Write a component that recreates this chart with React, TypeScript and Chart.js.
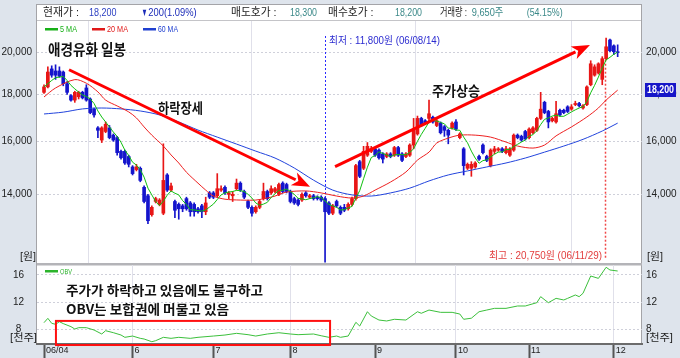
import React, { useEffect, useRef } from 'react';
import { Chart, registerables } from 'chart.js';

Chart.register(...registerables);

// ---------------- DATA ----------------
const opens = [
  18100, 18350, 19200, 19100, 19100, 19050, 18500, 17950, 17750, 17900,
  18100, 18300, 17800, 17350, 16550, 16050, 16400, 16550, 16250, 16150,
  15600, 15600, 15400, 15000, 14900, 14950, 14250, 13950, 13300, 13750,
  13650, 13350, 14700, 14150, 13750, 13650, 13600, 13850, 13700, 13650,
  13500, 13600, 13400, 14050, 14050, 13950, 14150, 14250, 14000, 13950,
  14200, 14400, 14100, 13750, 13550, 13400, 13550, 13850, 14100, 14050,
  14100, 14000, 14400, 14350, 14100, 13850, 13800, 13800, 14050, 13900,
  13950, 13900, 13900, 13850, 13700, 13350, 13750, 13550, 13550, 13500,
  13650, 13850, 15200, 14950, 15450, 15600, 15700, 15650, 15500, 15400,
  15500, 15450, 15750, 15500, 15400, 15450, 15850, 16300, 16950, 16850,
  16950, 17000, 16650, 16750, 16600, 16450, 16550, 16800, 16150, 15700,
  14950, 14950, 15000, 15400, 15850, 15400, 15050, 15600, 15650, 15700,
  15550, 15450, 15650, 16250, 16200, 16400, 16150, 16350, 16450, 16950,
  17650, 17250, 16850, 16800, 17300, 17300, 17450, 17350, 17550, 17600,
  17400, 17550, 18450, 18900, 19000, 18700, 19700, 20650, 20350, 20050,
];
const highs = [
  18450, 19300, 19350, 19400, 19300, 19100, 18600, 18000, 18150, 18150,
  18150, 18450, 17850, 17400, 16600, 16600, 16800, 16650, 16300, 16200,
  15650, 15650, 15450, 15050, 15100, 15000, 14300, 14000, 13600, 13900,
  13850, 15900, 14750, 14400, 13800, 13700, 13650, 13900, 13750, 13700,
  13550, 13650, 13900, 14100, 14100, 14750, 14300, 14300, 14100, 14100,
  14550, 14450, 14150, 13800, 13600, 13600, 13800, 14400, 14150, 14300,
  14250, 14400, 14450, 14400, 14150, 13900, 13850, 14050, 14100, 14000,
  14000, 13950, 13950, 13900, 13750, 13650, 13800, 13600, 13650, 13700,
  13900, 15100, 15250, 15800, 15950, 15800, 15750, 15700, 15550, 15550,
  15550, 15800, 15800, 15550, 15550, 15900, 16950, 17050, 17000, 16900,
  17750, 17050, 16900, 16800, 16650, 16500, 16800, 16900, 16350, 15750,
  15150, 15200, 15200, 15450, 15900, 15450, 15700, 15800, 15750, 15750,
  15800, 15750, 16300, 16300, 16250, 16450, 16550, 16600, 17000, 18100,
  17700, 17300, 17000, 17700, 17350, 17350, 17500, 17550, 17700, 17650,
  17550, 18400, 19600, 19400, 19500, 19800, 20750, 20700, 20400, 20400,
];
const lows = [
  18050, 18300, 18800, 18700, 18800, 18400, 18000, 17700, 17650, 17800,
  17800, 17700, 17150, 17000, 16150, 15950, 16350, 16100, 16000, 15450,
  15300, 15100, 15000, 14700, 14850, 14450, 13700, 13000, 13250, 13700,
  13600, 13300, 14100, 14100, 13200, 13150, 13400, 13450, 13250, 13250,
  13350, 13200, 13300, 13850, 13850, 13900, 14100, 14000, 13850, 13750,
  14150, 14100, 13850, 13500, 13250, 13350, 13500, 13800, 13800, 14000,
  14050, 13950, 14050, 14050, 13700, 13650, 13600, 13750, 13900, 13850,
  13800, 13800, 13750, 11800, 13300, 13300, 13550, 13300, 13400, 13450,
  13600, 13800, 14600, 14900, 15400, 15550, 15400, 15300, 15150, 15350,
  15350, 15400, 15400, 15200, 15350, 15400, 15700, 16250, 16600, 16700,
  16850, 16750, 16600, 16300, 16200, 15900, 16500, 16450, 16100, 14700,
  14900, 14650, 14950, 15250, 15500, 15200, 15000, 15500, 15600, 15550,
  15500, 15400, 15600, 16100, 16000, 16050, 16100, 16300, 16400, 16900,
  17150, 16550, 16800, 16750, 17050, 17150, 17200, 17300, 17500, 17450,
  17350, 17500, 18400, 18850, 18950, 18450, 19650, 20050, 19900, 19800,
];
const closes = [
  18350, 19050, 18900, 18900, 18850, 18500, 18100, 17750, 18100, 18100,
  17850, 17750, 17200, 17100, 16450, 16550, 16700, 16150, 16050, 15550,
  15350, 15150, 15100, 14750, 15000, 14500, 13750, 13100, 13550, 13850,
  13800, 14500, 14150, 14300, 13450, 13500, 13500, 13500, 13400, 13400,
  13400, 13400, 13700, 13900, 13900, 14200, 14200, 14050, 14050, 14000,
  14400, 14150, 13900, 13550, 13350, 13550, 13750, 14100, 13850, 14200,
  14200, 14350, 14100, 14100, 13750, 13700, 13650, 14000, 13950, 13950,
  13850, 13850, 13800, 13400, 13350, 13600, 13600, 13350, 13450, 13650,
  13850, 15050, 14650, 15600, 15800, 15700, 15450, 15350, 15300, 15500,
  15400, 15750, 15450, 15250, 15500, 15850, 16450, 16950, 16650, 16750,
  17150, 16800, 16850, 16350, 16450, 16250, 16750, 16500, 16300, 15050,
  15100, 15100, 15150, 15300, 15550, 15250, 15650, 15700, 15700, 15600,
  15700, 15700, 16250, 16150, 16050, 16100, 16500, 16550, 16950, 17350,
  17200, 16800, 16950, 17150, 17100, 17200, 17250, 17450, 17600, 17500,
  17500, 18350, 19450, 19300, 19450, 19700, 20300, 20100, 20050, 20000,
];
const ma5 = [
  18350, 18500, 18650, 18780, 18810, 18840, 18650, 18420, 18260, 18110,
  17980, 17910, 17800, 17600, 17270, 17010, 16800, 16590, 16380, 16200,
  15960, 15650, 15440, 15180, 15070, 14900, 14620, 14220, 13980, 13750,
  13610, 13760, 13970, 14120, 14040, 13980, 13780, 13650, 13470, 13460,
  13440, 13420, 13460, 13560, 13660, 13820, 13980, 14050, 14080, 14100,
  14140, 14130, 14100, 14000, 13870, 13700, 13620, 13660, 13720, 13890,
  14020, 14140, 14140, 14190, 14100, 14000, 13860, 13840, 13810, 13850,
  13880, 13920, 13880, 13770, 13650, 13600, 13550, 13460, 13470, 13530,
  13580, 13870, 14130, 14560, 14990, 15360, 15440, 15580, 15520, 15460,
  15400, 15460, 15480, 15470, 15470, 15560, 15700, 16000, 16280, 16530,
  16790, 16860, 16840, 16780, 16720, 16540, 16530, 16460, 16450, 16170,
  15940, 15610, 15340, 15140, 15240, 15270, 15380, 15490, 15570, 15580,
  15670, 15680, 15790, 15880, 15970, 16050, 16210, 16270, 16430, 16690,
  16910, 16970, 17050, 17090, 17040, 17040, 17130, 17230, 17320, 17400,
  17460, 17680, 18080, 18420, 18810, 19250, 19640, 19770, 19920, 20030,
];
const ma20Points = [
  [0, 17890], [3, 18300], [8, 18690], [11, 18520], [14, 18120], [16, 17750], [19, 17490],
  [22, 17230], [24, 16970], [26, 16590], [28, 16250], [31, 15810], [33, 15460], [35, 15150],
  [37, 14800], [40, 14400], [42, 14150], [44, 13940], [47, 13830], [51, 13800], [55, 13800],
  [58, 13870], [60, 13940], [63, 14080], [68, 14120], [72, 14050], [76, 13940], [80, 13870],
  [83, 13940], [86, 14150], [90, 14440], [94, 14810], [97, 15260], [100, 15570], [102, 15930],
  [105, 16130], [108, 16250], [112, 16250], [116, 16170], [120, 15970], [123, 15810],
  [127, 15730], [130, 15850], [133, 16220], [137, 16590], [141, 17010], [144, 17400],
  [146, 17750], [149, 18200],
];
const ma60Points = [
  [0, 17140], [5, 17220], [10, 17360], [15, 17400], [20, 17360], [25, 17270], [30, 17100],
  [35, 16800], [40, 16460], [45, 16170], [50, 15890], [55, 15610], [60, 15340], [65, 14960],
  [70, 14510], [75, 14150], [80, 13980], [85, 13940], [90, 14050], [95, 14220], [100, 14480],
  [105, 14700], [110, 14850], [115, 15000], [120, 15150], [125, 15340], [130, 15570],
  [135, 15810], [140, 16080], [145, 16420], [149, 16750],
];
const obvPoints = [
  [0, 8.94], [1, 9.58], [2, 8.84], [3, 8.7], [4, 9.08], [5, 8.8], [7, 8.35], [8, 8.0], [9, 8.2],
  [11, 8.2], [13, 7.85], [15, 7.26], [16, 7.75], [18, 7.46], [20, 7.11], [21, 6.77], [23, 6.96],
  [25, 6.62], [26, 6.52], [28, 6.12], [29, 6.27], [31, 6.77], [33, 6.62], [35, 6.77], [38, 6.62],
  [40, 6.77], [44, 6.96], [47, 7.11], [50, 7.36], [53, 7.16], [55, 6.96], [58, 7.26], [61, 7.45],
  [64, 7.26], [66, 7.16], [70, 7.26], [72, 7.0], [74, 6.77], [76, 6.96], [77, 6.77], [79, 6.96],
  [81, 8.99], [82, 8.44], [84, 10.56], [85, 9.93], [87, 9.33], [89, 9.19], [91, 9.44], [94, 9.33],
  [97, 10.56], [98, 10.33], [100, 10.81], [103, 10.47], [106, 10.47], [108, 10.22], [109, 9.44],
  [111, 9.6], [113, 10.56], [115, 10.81], [117, 11.06], [120, 11.06], [123, 11.41], [125, 11.41],
  [128, 11.9], [129, 12.79], [131, 11.9], [133, 12.54], [135, 12.3], [136, 12.54], [138, 13.04],
  [139, 12.79], [140, 13.29], [142, 15.85], [144, 15.5], [146, 17.14], [147, 16.74], [149, 16.59],
];
const monthTickIndex = [0, 23, 44, 64, 86, 107, 126, 148];
const monthTickLabels = ['06/04', '6', '7', '8', '9', '10', '11', '12'];
const monthGridIndex = [23, 64, 107, 148];
const priceTicks = [14000, 16000, 18000, 20000];
const obvTicks = [8, 12, 16];
const priceMin = 11777;
const priceMax = 21662;
const obvMin = 5.78;
const obvMax = 17.48;
const xMin = -1.82;
const xMax = 155.32;
const lowIndex = 73;
const highIndex = 146;
const lowLabel = '최저 : 11,800원 (06/08/14)';
const highLabel = '최고 : 20,750원 (06/11/29)';
const currentPrice = 18200;
const downArrow = [[6.5, 19160], [69.1, 14270]];
const upArrow = [[75.6, 15010], [141.8, 20390]];
const obvBox = [[3.1, 9.2], [74.3, 5.63]];

// ---------------- STYLE ----------------
const FONT_NUM = "'Liberation Sans', Arial, 'Noto Sans CJK KR', sans-serif";
const FONT_KR = "'Noto Sans CJK KR', 'Liberation Sans', sans-serif";
const UP = '#e81616';
const DOWN = '#1414cc';
const GRID_H = '#cfd0da';
const GRID_V = '#e0e0ea';

const fmt = (v: number) => Number(v).toLocaleString('en-US');

function fitText(ctx: CanvasRenderingContext2D, text: string, x: number, y: number, width: number, font: string, color: string) {
  ctx.save();
  ctx.font = font;
  ctx.fillStyle = color;
  ctx.textBaseline = 'middle';
  ctx.textAlign = 'left';
  const w = ctx.measureText(text).width || 1;
  ctx.translate(x, y);
  ctx.scale(width / w, 1);
  ctx.fillText(text, 0, 0);
  ctx.restore();
}

function drawArrow(ctx: CanvasRenderingContext2D, x1: number, y1: number, x2: number, y2: number) {
  const a = Math.atan2(y2 - y1, x2 - x1);
  const hl = 18, hw = 7;
  const bx = x2 - hl * Math.cos(a), by = y2 - hl * Math.sin(a);
  ctx.save();
  ctx.strokeStyle = '#ff0000';
  ctx.fillStyle = '#ff0000';
  ctx.lineWidth = 3;
  ctx.beginPath();
  ctx.moveTo(x1, y1);
  ctx.lineTo(bx + 2 * Math.cos(a), by + 2 * Math.sin(a));
  ctx.stroke();
  ctx.beginPath();
  ctx.moveTo(x2, y2);
  ctx.lineTo(bx + hw * Math.sin(a), by - hw * Math.cos(a));
  ctx.lineTo(bx + 5 * Math.cos(a), by + 5 * Math.sin(a));
  ctx.lineTo(bx - hw * Math.sin(a), by + hw * Math.cos(a));
  ctx.closePath();
  ctx.fill();
  ctx.restore();
}

const xBase = (labels: boolean): any => ({
  type: 'linear',
  min: xMin,
  max: xMax,
  bounds: 'data',
  offset: false,
  afterBuildTicks: (s: any) => { s.ticks = monthTickIndex.map((v) => ({ value: v })); },
  ticks: labels
    ? {
        display: true, autoSkip: false, maxRotation: 0, minRotation: 0, align: 'start',
        labelOffset: 2, padding: -13, color: '#222',
        font: { family: FONT_NUM, size: 9 },
        callback: (v: number) => { const k = monthTickIndex.indexOf(v); return k >= 0 ? monthTickLabels[k] : ''; },
      }
    : { display: false },
  grid: {
    drawTicks: labels,
    tickLength: 14,
    tickColor: '#555',
    tickWidth: 2,
    lineWidth: 1,
    color: (c: any) => (c.tick && monthGridIndex.includes(c.tick.value) ? GRID_V : 'rgba(0,0,0,0)'),
  },
  border: labels ? { display: true, color: '#6c6c6c', width: 2 } : { display: false },
  afterFit: (s: any) => { s.height = labels ? 14 : 0; s.paddingLeft = 0; s.paddingRight = 0; },
});

const yAxis = (type: string, pos: string, min: number, max: number, ticks: number[], extra: any): any => ({
  type,
  position: pos,
  min,
  max,
  bounds: 'data',
  afterBuildTicks: (s: any) => { s.ticks = ticks.map((v) => ({ value: v })); },
  ticks: {
    autoSkip: false,
    color: '#222',
    font: { family: FONT_NUM, size: 10 },
    padding: pos === 'left' ? 5 : 4,
    callback: (v: number) => fmt(v),
    ...(extra.ticks || {}),
  },
  grid: pos === 'left' ? { drawTicks: false, color: GRID_H } : { display: false, drawTicks: false },
  border: { display: false, dash: [2, 2] },
  afterFit: (s: any) => { s.width = pos === 'left' ? 37 : 38; s.paddingTop = 0; s.paddingBottom = 0; },
});

export default function App() {
  const refA = useRef<HTMLCanvasElement>(null);
  const refB = useRef<HTMLCanvasElement>(null);

  useEffect(() => {
    const candleColors = opens.map((o, i) => (closes[i] >= o ? UP : DOWN));

    const pluginA = {
      id: 'panelA',
      beforeDraw(chart: any) {
        const ctx = chart.ctx;
        ctx.save();
        ctx.fillStyle = '#ffffff';
        ctx.fillRect(37, 4, 605, 260);
        ctx.strokeStyle = '#a4a4a8';
        ctx.lineWidth = 1;
        ctx.beginPath();
        ctx.moveTo(36.5, 4.5); ctx.lineTo(641.5, 4.5);
        ctx.moveTo(36.5, 4); ctx.lineTo(36.5, 264);
        ctx.moveTo(641.5, 4); ctx.lineTo(641.5, 264);
        ctx.stroke();
        ctx.strokeStyle = '#c4c4c8';
        ctx.beginPath();
        ctx.moveTo(37, 20.5); ctx.lineTo(641, 20.5);
        ctx.stroke();
        ctx.restore();
      },
      beforeDatasetsDraw(chart: any) {
        const ctx = chart.ctx;
        const xs = chart.scales.x, ys = chart.scales.y;
        ctx.save();
        ctx.setLineDash([2, 2]);
        ctx.lineWidth = 1;
        ctx.strokeStyle = '#2a2aff';
        const xl = Math.round(xs.getPixelForValue(lowIndex)) + 0.5;
        ctx.beginPath();
        ctx.moveTo(xl, 36);
        ctx.lineTo(xl, ys.getPixelForValue(highs[lowIndex]));
        ctx.stroke();
        ctx.strokeStyle = '#f04848';
        ctx.lineWidth = 1.5;
        const xh = Math.round(xs.getPixelForValue(highIndex)) - 0.5;
        ctx.beginPath();
        ctx.moveTo(xh, ys.getPixelForValue(lows[highIndex]));
        ctx.lineTo(xh, chart.chartArea.bottom - 4);
        ctx.stroke();
        ctx.restore();
      },
      afterDatasetsDraw(chart: any) {
        const ctx = chart.ctx;
        const xs = chart.scales.x, ys = chart.scales.y;
        const P = (p: number[]) => [xs.getPixelForValue(p[0]), ys.getPixelForValue(p[1])];
        const [a1, a2] = [P(downArrow[0]), P(downArrow[1])];
        drawArrow(ctx, a1[0], a1[1], a2[0], a2[1]);
        const [b1, b2] = [P(upArrow[0]), P(upArrow[1])];
        drawArrow(ctx, b1[0], b1[1], b2[0], b2[1]);
      },
      afterDraw(chart: any) {
        const ctx = chart.ctx;
        const ys = chart.scales.y;
        const hf = `11px ${FONT_NUM}`;
        const header: [string, number, number, string][] = [
          ['현재가 :', 43, 36, '#222'],
          ['18,200', 89, 27.5, '#2a3ec2'],
          ['▼', 141.5, 6, '#1b2bb8'],
          ['200(1.09%)', 148.3, 48.4, '#1b2bb8'],
          ['매도호가 :', 231, 45.5, '#222'],
          ['18,300', 290, 27, '#3a8888'],
          ['매수호가 :', 328, 45.5, '#222'],
          ['18,200', 395, 27, '#3a8888'],
          ['거래량 :', 440, 27, '#222'],
          ['9,650주', 471.7, 31.6, '#3a8888'],
          ['(54.15%)', 526.7, 36, '#3a8888'],
        ];
        header.forEach(([t, x, w, c]) => fitText(ctx, t, x, 12.5, w, hf, c));
        const lg: [string, string, number, number][] = [
          ['5 MA', '#18b018', 45, 17],
          ['20 MA', '#e01818', 92, 21],
          ['60 MA', '#2040d0', 143, 20],
        ];
        lg.forEach(([t, c, x, w]) => {
          ctx.fillStyle = c;
          ctx.fillRect(x, 28, 13, 2.5);
          fitText(ctx, t, x + 15, 29.5, w, `9px ${FONT_NUM}`, c);
        });
        fitText(ctx, '애경유화 일봉', 48, 49.5, 78, `bold 15px ${FONT_KR}`, '#111');
        fitText(ctx, '하락장세', 158, 108, 45, `bold 14px ${FONT_KR}`, '#111');
        fitText(ctx, '주가상승', 432, 91, 48, `bold 14px ${FONT_KR}`, '#111');
        fitText(ctx, lowLabel, 329, 41, 111, `10px ${FONT_NUM}`, '#2b2bd0');
        fitText(ctx, highLabel, 489, 256, 113, `10px ${FONT_NUM}`, '#e23c3c');
        fitText(ctx, '[원]', 20, 257, 16, `10px ${FONT_NUM}`, '#222');
        fitText(ctx, '[원]', 647, 257, 16, `10px ${FONT_NUM}`, '#222');
        ctx.fillStyle = '#b4b4b8';
        ctx.fillRect(37, 263, 605, 1);
        const yc = ys.getPixelForValue(currentPrice);
        ctx.fillStyle = '#1616c8';
        ctx.fillRect(645, Math.round(yc) - 7, 31, 14);
        fitText(ctx, fmt(currentPrice), 647, Math.round(yc), 27, `bold 10px ${FONT_NUM}`, '#ffffff');
      },
    };

    const pluginB = {
      id: 'panelB',
      beforeDraw(chart: any) {
        const ctx = chart.ctx;
        ctx.save();
        ctx.fillStyle = '#ffffff';
        ctx.fillRect(37, 0, 605, 80);
        ctx.strokeStyle = '#a4a4a8';
        ctx.lineWidth = 1;
        ctx.beginPath();
        ctx.moveTo(36.5, 0); ctx.lineTo(36.5, 81);
        ctx.moveTo(641.5, 0); ctx.lineTo(641.5, 81);
        ctx.stroke();
        ctx.fillStyle = '#b4b4b8';
        ctx.fillRect(37, 0, 605, 1.5);
        ctx.restore();
      },
      afterDraw(chart: any) {
        const ctx = chart.ctx;
        const xs = chart.scales.x, ys = chart.scales.y;
        ctx.fillStyle = '#2cb42c';
        ctx.fillRect(45, 6, 13, 2.5);
        fitText(ctx, 'OBV', 60, 7.5, 12, `8px ${FONT_NUM}`, '#2cb42c');
        fitText(ctx, '주가가 하락하고 있음에도 불구하고', 66, 26, 197, `bold 13px ${FONT_KR}`, '#111');
        fitText(ctx, 'OBV는 보합권에 머물고 있음', 66, 45, 163, `bold 13px ${FONT_KR}`, '#111');
        fitText(ctx, '[천주]', 10, 74, 27, `10px ${FONT_NUM}`, '#222');
        fitText(ctx, '[천주]', 646, 74, 27, `10px ${FONT_NUM}`, '#222');
        const x0 = xs.getPixelForValue(obvBox[0][0]);
        const y0 = ys.getPixelForValue(obvBox[0][1]);
        const x1 = xs.getPixelForValue(obvBox[1][0]);
        const y1 = ys.getPixelForValue(obvBox[1][1]);
        ctx.save();
        ctx.strokeStyle = '#ff1010';
        ctx.lineWidth = 2;
        ctx.strokeRect(x0, y0, x1 - x0, y1 - y0);
        ctx.restore();
      },
    };

    const chartA = new Chart(refA.current as HTMLCanvasElement, {
      type: 'bar',
      data: {
        datasets: [
          { type: 'line', label: '5 MA', data: ma5.map((v, i) => ({ x: i, y: v })), borderColor: '#10c010', borderWidth: 1, pointRadius: 0, tension: 0, order: 1 } as any,
          { type: 'line', label: '20 MA', data: ma20Points.map(([i, v]) => ({ x: i, y: v })), borderColor: '#ee2020', borderWidth: 1, pointRadius: 0, tension: 0.3, order: 2 } as any,
          { type: 'line', label: '60 MA', data: ma60Points.map(([i, v]) => ({ x: i, y: v })), borderColor: '#2244dd', borderWidth: 1, pointRadius: 0, tension: 0.3, order: 3 } as any,
          { type: 'bar', label: 'body', data: opens.map((o, i) => ({ x: i, y: [o, closes[i]] })), backgroundColor: candleColors, barThickness: 3, grouped: false, order: 5 } as any,
          { type: 'bar', label: 'wick', data: lows.map((l, i) => ({ x: i, y: [l, highs[i]] })), backgroundColor: candleColors, barThickness: 1, grouped: false, order: 6 } as any,
        ],
      },
      options: {
        responsive: false,
        maintainAspectRatio: false,
        devicePixelRatio: 1,
        animation: false,
        events: [],
        layout: { padding: { top: 21, bottom: 1, left: 0, right: 0 }, autoPadding: false },
        plugins: { legend: { display: false }, tooltip: { enabled: false } },
        scales: {
          x: xBase(false),
          y: yAxis('logarithmic', 'left', priceMin, priceMax, priceTicks, {}),
          yR: yAxis('logarithmic', 'right', priceMin, priceMax, priceTicks, {}),
        },
      } as any,
      plugins: [pluginA],
    });

    const chartB = new Chart(refB.current as HTMLCanvasElement, {
      type: 'line',
      data: {
        datasets: [
          { label: 'OBV', data: obvPoints.map(([i, v]) => ({ x: i, y: v })), borderColor: '#3cc03c', borderWidth: 1, pointRadius: 0, tension: 0 } as any,
        ],
      },
      options: {
        responsive: false,
        maintainAspectRatio: false,
        devicePixelRatio: 1,
        animation: false,
        events: [],
        layout: { padding: { top: 1, bottom: 0, left: 0, right: 0 }, autoPadding: false },
        plugins: { legend: { display: false }, tooltip: { enabled: false } },
        scales: {
          x: xBase(true),
          y: yAxis('linear', 'left', obvMin, obvMax, obvTicks, { ticks: { padding: 13, crossAlign: 'center', callback: (v: number) => String(v) } }),
          yR: yAxis('linear', 'right', obvMin, obvMax, obvTicks, { ticks: { callback: (v: number) => String(v) } }),
        },
      } as any,
      plugins: [pluginB],
    });

    return () => {
      chartA.destroy();
      chartB.destroy();
    };
  }, []);

  return (
    <div style={{ position: 'absolute', left: 0, top: 0, width: 680, height: 358, background: '#dee4ec', overflow: 'hidden' }}>
      <canvas ref={refA} width={680} height={264} style={{ position: 'absolute', left: 0, top: 0, width: 680, height: 264 }} />
      <canvas ref={refB} width={680} height={94} style={{ position: 'absolute', left: 0, top: 264, width: 680, height: 94 }} />
    </div>
  );
}
